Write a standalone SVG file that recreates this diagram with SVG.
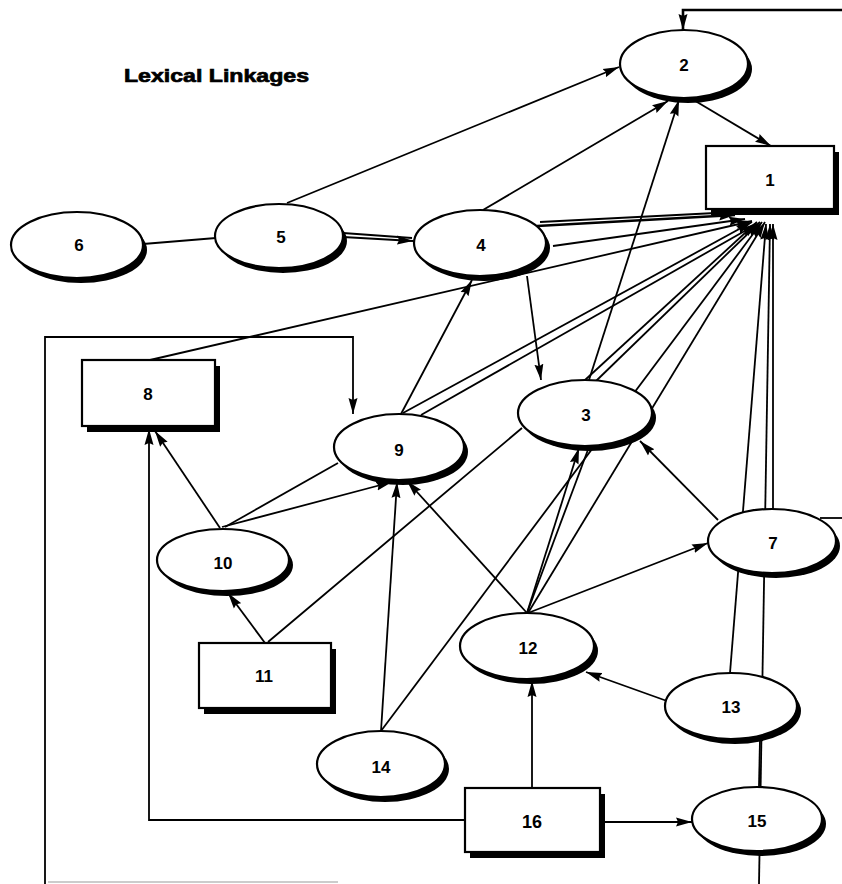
<svg xmlns="http://www.w3.org/2000/svg" width="842" height="884" viewBox="0 0 842 884">
<style>
.e{fill:none;stroke:#000;stroke-width:1.8}
.t{stroke-width:2.6}
.sh{fill:#000}
.nd{fill:#fff;stroke:#000;stroke-width:2.2}
.lb{font-family:"Liberation Sans",Arial,sans-serif;font-weight:bold;font-size:17px;text-anchor:middle;fill:#000}
.title{font-family:"Liberation Sans",Arial,sans-serif;font-weight:bold;font-size:19px;fill:#000;stroke:#000;stroke-width:0.7}
</style>
<defs>
<marker id="a" viewBox="0 0 16 10" refX="16" refY="5" markerWidth="16" markerHeight="10" markerUnits="userSpaceOnUse" orient="auto">
<path d="M0,0.5 L16,5 L0,9.5 L2,5 z" fill="#000"/>
</marker>
</defs>
<rect width="842" height="884" fill="#fff"/>
<text class="title" x="124" y="82" textLength="185" lengthAdjust="spacingAndGlyphs">Lexical Linkages</text>

<g id="connectors">
<path class="e t" d="M842,10 H683 V30" marker-end="url(#a)"/>
<path class="e" d="M287,203 L619,67" marker-end="url(#a)"/>
<path class="e" d="M483,210 L668,101" marker-end="url(#a)"/>
<path class="e" d="M589,380 L679,100" marker-end="url(#a)"/>
<path class="e" d="M692,99 L771,146" marker-end="url(#a)"/>
<path class="e" d="M143,244 L216,238"/>
<path class="e" d="M343,233 L412,238"/>
<path class="e" d="M343,237 L413,241" marker-end="url(#a)"/>
<path class="e" d="M527,276 L541,380" marker-end="url(#a)"/>
<path class="e" d="M401,414 L472,280" marker-end="url(#a)"/>
<path class="e" d="M45,884 V337 H353 V414" marker-end="url(#a)"/>
<path class="e" d="M465,820 H149 V429" marker-end="url(#a)"/>
<path class="e" d="M220,528 L155,431" marker-end="url(#a)"/>
<path class="e" d="M222,527 L392,482" marker-end="url(#a)"/>
<path class="e" d="M225,527 L338,463"/>
<path class="e" d="M265,643 L228,593" marker-end="url(#a)"/>
<path class="e" d="M268,642 L522,428"/>
<path class="e" d="M381,731 L397,482" marker-end="url(#a)"/>
<path class="e" d="M527,613 L407,481" marker-end="url(#a)"/>
<path class="e" d="M527,613 L579,448" marker-end="url(#a)"/>
<path class="e" d="M527,613 L589,447"/>
<path class="e" d="M528,613 L708,543" marker-end="url(#a)"/>
<path class="e" d="M718,520 L640,441" marker-end="url(#a)"/>
<path class="e" d="M667,701 L586,672" marker-end="url(#a)"/>
<path class="e" d="M532,788 L532,681" marker-end="url(#a)"/>
<path class="e" d="M600,822 L692,822" marker-end="url(#a)"/>
<path class="e" d="M760,739 L759,787"/>
<path class="e" d="M820,518 H842"/>
<path class="e t" d="M537,226 L735,215" marker-end="url(#a)"/>
<path class="e" d="M540,222 L735,212"/>
<path class="e" d="M553,246 L745,219" marker-end="url(#a)"/>
<path class="e" d="M150,360 L752,221" marker-end="url(#a)"/>
<path class="e" d="M403,413 L752,222" marker-end="url(#a)"/>
<path class="e" d="M421,415 L757,224" marker-end="url(#a)"/>
<path class="e" d="M585,380 L757,222" marker-end="url(#a)"/>
<path class="e" d="M596,381 L760,222" marker-end="url(#a)"/>
<path class="e" d="M381,731 L762,222" marker-end="url(#a)"/>
<path class="e" d="M528,613 L765,222" marker-end="url(#a)"/>
<path class="e" d="M730,673 L766,224" marker-end="url(#a)"/>
<path class="e" d="M759,884 L770,224" marker-end="url(#a)"/>
<path class="e" d="M773,509 L773,224" marker-end="url(#a)"/>
<path d="M48,882 H338" stroke="#bbb" stroke-width="1.5"/>
</g>

<g id="n2"><ellipse class="sh" cx="688" cy="69" rx="64" ry="34"/><ellipse class="nd" cx="684" cy="64" rx="64" ry="34"/><text class="lb" x="684" y="71">2</text></g>
<g id="n1"><rect class="sh" x="711" y="152" width="128" height="63"/><rect class="nd" x="706" y="146" width="128" height="63"/><text class="lb" x="770" y="186">1</text></g>
<g id="n6"><ellipse class="sh" cx="81" cy="250" rx="66" ry="33"/><ellipse class="nd" cx="77" cy="245" rx="66" ry="33"/><text class="lb" x="79" y="251">6</text></g>
<g id="n5"><ellipse class="sh" cx="283" cy="241" rx="64" ry="32"/><ellipse class="nd" cx="279" cy="236" rx="64" ry="32"/><text class="lb" x="281" y="243">5</text></g>
<g id="n4"><ellipse class="sh" cx="484" cy="248" rx="66" ry="33"/><ellipse class="nd" cx="480" cy="243" rx="66" ry="33"/><text class="lb" x="481" y="251">4</text></g>
<g id="n8"><rect class="sh" x="87" y="366" width="133" height="66"/><rect class="nd" x="82" y="360" width="133" height="66"/><text class="lb" x="148" y="400">8</text></g>
<g id="n9"><ellipse class="sh" cx="403" cy="452" rx="65" ry="33"/><ellipse class="nd" cx="399" cy="447" rx="65" ry="33"/><text class="lb" x="399" y="456">9</text></g>
<g id="n3"><ellipse class="sh" cx="589" cy="418" rx="67" ry="33"/><ellipse class="nd" cx="585" cy="413" rx="67" ry="33"/><text class="lb" x="586" y="421">3</text></g>
<g id="n10"><ellipse class="sh" cx="227" cy="565" rx="66" ry="31"/><ellipse class="nd" cx="223" cy="560" rx="66" ry="31"/><text class="lb" x="223" y="569">10</text></g>
<g id="n7"><ellipse class="sh" cx="776" cy="546" rx="64" ry="32"/><ellipse class="nd" cx="772" cy="541" rx="64" ry="32"/><text class="lb" x="773" y="549">7</text></g>
<g id="n11"><rect class="sh" x="204" y="649" width="132" height="65"/><rect class="nd" x="199" y="643" width="132" height="65"/><text class="lb" x="264" y="682">11</text></g>
<g id="n12"><ellipse class="sh" cx="531" cy="651" rx="67" ry="33"/><ellipse class="nd" cx="527" cy="646" rx="67" ry="33"/><text class="lb" x="528" y="654">12</text></g>
<g id="n13"><ellipse class="sh" cx="735" cy="711" rx="66" ry="33"/><ellipse class="nd" cx="731" cy="706" rx="66" ry="33"/><text class="lb" x="731" y="713">13</text></g>
<g id="n14"><ellipse class="sh" cx="385" cy="769" rx="64" ry="33"/><ellipse class="nd" cx="381" cy="764" rx="64" ry="33"/><text class="lb" x="381" y="773">14</text></g>
<g id="n16"><rect class="sh" x="470" y="794" width="135" height="64"/><rect class="nd" x="465" y="788" width="135" height="64"/><text class="lb" x="532" y="828" style="font-size:18px">16</text></g>
<g id="n15"><ellipse class="sh" cx="761" cy="824" rx="65" ry="32"/><ellipse class="nd" cx="757" cy="819" rx="65" ry="32"/><text class="lb" x="757" y="827">15</text></g>
</svg>
